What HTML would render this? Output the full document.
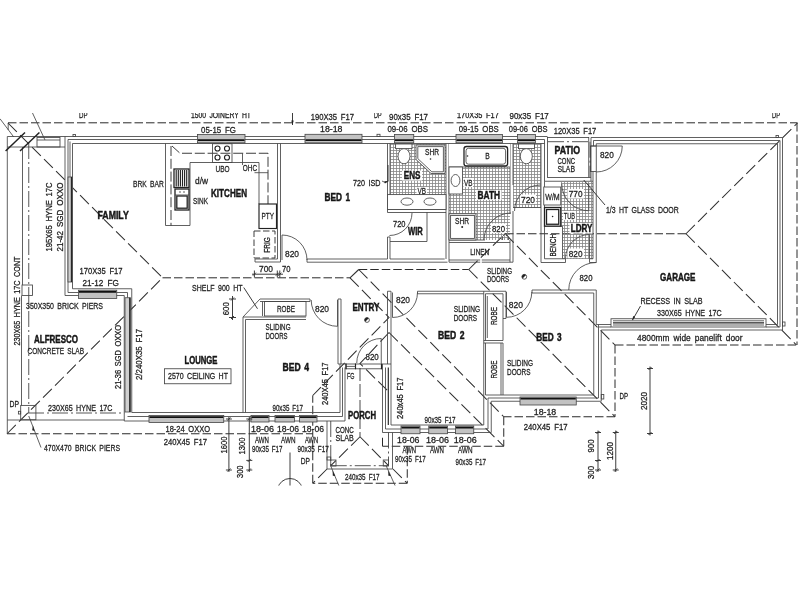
<!DOCTYPE html>
<html lang="en">
<head>
<meta charset="utf-8">
<title>Floor plan</title>
<style>
html,body{margin:0;padding:0;background:#fff;}
body{width:800px;height:600px;overflow:hidden;font-family:"Liberation Sans",sans-serif;}
svg{display:block;will-change:transform;}
.w{fill:none;stroke:#444;stroke-width:.85;}
.wf{fill:#fff;stroke:#444;stroke-width:.85;}
.k{fill:#fff;stroke:#222;stroke-width:1.3;}
.k3{fill:none;stroke:#222;stroke-width:1.15;}
.d3{fill:none;stroke:#333;stroke-width:.95;stroke-dasharray:6.5 2.5;}
.dm{fill:none;stroke:#333;stroke-width:.95;}
.k2{fill:none;stroke:#222;stroke-width:1.5;}
.d{fill:none;stroke:#2a2a2a;stroke-width:1;stroke-dasharray:8.5 3;}
.h{fill:none;stroke:#303030;stroke-width:1.05;stroke-dasharray:12.5 4.5;}
.ld{fill:none;stroke:#333;stroke-width:.9;stroke-dasharray:13 3;}
.d2{fill:none;stroke:#333;stroke-width:.95;stroke-dasharray:10 2.8;}
.dd{fill:none;stroke:#3a3a3a;stroke-width:.85;stroke-dasharray:16 3 2 3;}
.win{fill:#c2c2c2;stroke:#444;stroke-width:.8;}
.win2{fill:#cfcfcf;stroke:#444;stroke-width:.8;}
.glz{fill:none;stroke:#111;stroke-width:1.7;}
.tile{fill:url(#tp);stroke:none;}
.ko{fill:#fff;stroke:none;}
.dot{fill:#222;stroke:none;}
text{font-family:"Liberation Sans",sans-serif;fill:#222;stroke:#222;stroke-width:.28px;word-spacing:2px;}
.t{font-size:9.5px;}
.b{font-size:10.4px;font-weight:bold;fill:#161616;stroke:#161616;stroke-width:.45px;word-spacing:1.5px;}
</style>
</head>
<body>
<svg width="800" height="600" viewBox="0 0 800 600">
<defs>
<pattern id="tp" width="3" height="3" patternUnits="userSpaceOnUse" x="390" y="144">
<path d="M0 .5H3M.5 0V3" fill="none" stroke="#858585" stroke-width=".8"/>
</pattern>
<clipPath id="crop"><rect x="0" y="113" width="800" height="372.5"/></clipPath>
</defs>
<rect x="0" y="0" width="800" height="600" fill="#fff"/>
<g clip-path="url(#crop)">
<line class="d" x1="8" y1="122.8" x2="797.5" y2="122.8"/>
<line class="d" x1="797" y1="123" x2="797" y2="345"/>
<line class="d" x1="796" y1="345" x2="615" y2="345"/>
<line class="d" x1="615" y1="345" x2="615" y2="416.75"/>
<line class="d" x1="615" y1="416.75" x2="503.75" y2="416.75"/>
<line class="d" x1="503.75" y1="416.75" x2="503.75" y2="446.25"/>
<line class="d" x1="503.75" y1="446.25" x2="382.5" y2="446.25"/>
<line class="d" x1="382.5" y1="446.25" x2="382.5" y2="436"/>
<line class="d" x1="407.25" y1="446.25" x2="407.25" y2="483.25"/>
<line class="d" x1="407.25" y1="483.25" x2="312.75" y2="483.25"/>
<line class="d" x1="312.75" y1="483.25" x2="312.75" y2="395.5"/>
<line class="d" x1="7" y1="433.75" x2="312.75" y2="433.75"/>
<line class="w" x1="8.2" y1="123" x2="8.2" y2="130"/>
<line class="h" x1="8" y1="123" x2="162.5" y2="277.8"/>
<line class="h" x1="7" y1="433.75" x2="162.5" y2="277.8"/>
<polyline class="d" points="162.5,277.8 350,277.8"/>
<line class="h" x1="350" y1="277.8" x2="358.75" y2="269.5"/>
<line class="d" x1="358.75" y1="269.5" x2="468.75" y2="269.5"/>
<line class="h" x1="468.75" y1="269.5" x2="505" y2="233.75"/>
<line class="d" x1="505" y1="233.75" x2="686" y2="233.75"/>
<line class="h" x1="686" y1="233.75" x2="797.5" y2="123"/>
<line class="h" x1="686" y1="233.75" x2="796.5" y2="345"/>
<line class="h" x1="468.75" y1="269.5" x2="615" y2="416.75"/>
<line class="h" x1="505" y1="233.75" x2="615" y2="345"/>
<line class="h" x1="358.75" y1="269.5" x2="503.75" y2="416.75"/>
<polyline class="h" points="350,277.8 389,317.5 312.75,395.5"/>
<line class="h" x1="389" y1="332.5" x2="503.75" y2="446.25"/>
<polyline class="h" points="389,332.5 360,363.5 389,392"/>
<line class="h" x1="327" y1="469" x2="312.75" y2="483.25"/>
<line class="h" x1="393" y1="469" x2="407.25" y2="483.25"/>
<path class="tile" d="M390 144H446V194.4H390Z"/>
<path class="tile" d="M463 167H510V240H475V214H449V194H463Z"/>
<path class="tile" d="M513 144H541V207.5H513Z"/>
<path class="tile" d="M561 182H593V259H563V227H561Z"/>
<rect class="ko" x="402" y="170.5" width="20" height="10"/>
<rect class="ko" x="416.5" y="187" width="10.5" height="7.4"/>
<rect class="ko" x="476" y="190" width="25.5" height="10"/>
<rect class="ko" x="463.5" y="178" width="9.5" height="9"/>
<rect class="ko" x="491" y="223.5" width="15" height="9.5"/>
<rect class="ko" x="520" y="194.5" width="16" height="9.5"/>
<rect class="ko" x="567.5" y="189" width="16.5" height="9.5"/>
<rect class="ko" x="563" y="211" width="13" height="9"/>
<rect class="ko" x="569.5" y="223" width="23.5" height="10.5"/>
<rect class="ko" x="567.5" y="248.5" width="16.5" height="9.5"/>
<line class="w" x1="65" y1="136.5" x2="547.5" y2="136.5"/>
<line class="w" x1="68" y1="139.5" x2="544.5" y2="139.5"/>
<line class="w" x1="72.5" y1="143.5" x2="544.5" y2="143.5"/>
<line class="w" x1="65" y1="136.5" x2="65" y2="295.5"/>
<line class="w" x1="68" y1="139.5" x2="68" y2="292.5"/>
<line class="w" x1="70" y1="141.5" x2="70" y2="177"/>
<line class="w" x1="72.5" y1="143.5" x2="72.5" y2="288.75"/>
<rect class="win2" x="68" y="177" width="4.5" height="105"/>
<line class="k3" x1="71.4" y1="177" x2="71.4" y2="282"/>
<line class="w" x1="65" y1="295.5" x2="124.25" y2="295.5"/>
<line class="w" x1="68" y1="292.5" x2="127.5" y2="292.5"/>
<line class="w" x1="72.5" y1="288.75" x2="131.75" y2="288.75"/>
<line class="w" x1="131.75" y1="288.75" x2="131.75" y2="412.5"/>
<line class="w" x1="124.25" y1="295.5" x2="124.25" y2="421"/>
<line class="w" x1="127.5" y1="292.5" x2="127.5" y2="297.75"/>
<rect class="win2" x="125" y="297.75" width="5.5" height="114.25"/>
<line class="k3" x1="129.7" y1="297.75" x2="129.7" y2="412"/>
<line class="w" x1="124.25" y1="421" x2="345" y2="421"/>
<line class="w" x1="127.5" y1="416.5" x2="342.5" y2="416.5"/>
<line class="w" x1="131.75" y1="412.5" x2="340" y2="412.5"/>
<line class="w" x1="345" y1="421" x2="345" y2="367.5"/>
<line class="w" x1="342.5" y1="416.5" x2="342.5" y2="367.5"/>
<line class="w" x1="340" y1="412.5" x2="340" y2="364"/>
<polyline class="w" points="338,299 338,364 346,364"/>
<line class="w" x1="341" y1="299" x2="341" y2="364"/>
<line class="w" x1="338" y1="299" x2="341" y2="299"/>
<rect class="w" x="346" y="364" width="35.5" height="4.8"/>
<line class="k3" x1="355.5" y1="363.5" x2="355.5" y2="369.2"/>
<line class="w" x1="346" y1="366.4" x2="355.5" y2="366.4"/>
<line class="k3" x1="346" y1="363.5" x2="346" y2="369.2"/>
<line class="k3" x1="381.5" y1="363.5" x2="381.5" y2="369.2"/>
<line class="w" x1="387.5" y1="291.25" x2="387.5" y2="364"/>
<line class="w" x1="391" y1="291.25" x2="391" y2="425"/>
<line class="w" x1="387.5" y1="291.25" x2="391" y2="291.25"/>
<line class="w" x1="382.5" y1="364" x2="382.5" y2="432.5"/>
<line class="w" x1="385.5" y1="367.5" x2="385.5" y2="429"/>
<line class="k3" x1="388.3" y1="367.5" x2="388.3" y2="425"/>
<line class="w" x1="381.5" y1="364" x2="391" y2="364"/>
<line class="w" x1="382.5" y1="432.5" x2="491.25" y2="432.5"/>
<line class="w" x1="385.5" y1="429" x2="488" y2="429"/>
<line class="w" x1="391" y1="425" x2="483.75" y2="425"/>
<line class="w" x1="491.25" y1="432.5" x2="491.25" y2="401.25"/>
<line class="w" x1="488" y1="429" x2="488" y2="398"/>
<line class="w" x1="483.75" y1="425" x2="483.75" y2="291.25"/>
<line class="w" x1="491.25" y1="401.25" x2="601.25" y2="401.25"/>
<line class="w" x1="488" y1="398" x2="598.5" y2="398"/>
<line class="w" x1="485.5" y1="395" x2="593.75" y2="395"/>
<line class="w" x1="601.25" y1="401.25" x2="601.25" y2="330"/>
<line class="w" x1="598.5" y1="398" x2="598.5" y2="324.5"/>
<line class="w" x1="593.75" y1="395" x2="593.75" y2="293"/>
<line class="w" x1="596.25" y1="290" x2="596.25" y2="324.5"/>
<line class="w" x1="601.25" y1="330" x2="782.5" y2="330"/>
<line class="w" x1="596.25" y1="324.5" x2="611" y2="324.5"/>
<line class="w" x1="598.5" y1="327" x2="611" y2="327"/>
<rect class="w" x="611" y="318.75" width="155" height="8.25"/>
<line class="w" x1="613" y1="320.8" x2="764" y2="320.8"/>
<line class="k3" x1="613" y1="322.8" x2="764" y2="322.8"/>
<line class="w" x1="613" y1="325" x2="764" y2="325"/>
<line class="w" x1="766" y1="324.5" x2="777.5" y2="324.5"/>
<line class="w" x1="766" y1="327" x2="780" y2="327"/>
<line class="w" x1="782.5" y1="137.5" x2="782.5" y2="330"/>
<line class="w" x1="780" y1="140.5" x2="780" y2="327"/>
<line class="w" x1="777.5" y1="143.75" x2="777.5" y2="324.5"/>
<line class="w" x1="591" y1="137.5" x2="782.5" y2="137.5"/>
<line class="w" x1="593.5" y1="140.5" x2="780" y2="140.5"/>
<line class="w" x1="596.25" y1="143.75" x2="777.5" y2="143.75"/>
<line class="w" x1="591" y1="137.5" x2="591" y2="181.25"/>
<line class="w" x1="593.5" y1="140.5" x2="593.5" y2="146"/>
<line class="w" x1="596.25" y1="143.75" x2="596.25" y2="146"/>
<line class="w" x1="591" y1="146" x2="596.25" y2="146"/>
<rect class="w" x="590.5" y="146" width="5.75" height="25.5"/>
<line class="w" x1="596.25" y1="171.5" x2="596.25" y2="262.5"/>
<line class="w" x1="593" y1="171.5" x2="593" y2="181.25"/>
<rect class="w" x="547.5" y="137.5" width="41.25" height="40"/>
<line class="w" x1="544.5" y1="139.5" x2="544.5" y2="181.25"/>
<line class="w" x1="544.5" y1="181.25" x2="593" y2="181.25"/>
<line class="w" x1="588.75" y1="177.5" x2="591" y2="177.5"/>
<line class="dd" x1="548" y1="141.7" x2="590" y2="141.7"/>
<line class="dd" x1="590" y1="141.7" x2="590" y2="177"/>
<line class="w" x1="277.5" y1="143.5" x2="277.5" y2="259"/>
<line class="w" x1="280.5" y1="143.5" x2="280.5" y2="262"/>
<polyline class="w" points="277.5,259 255,259 255,262 280.5,262"/>
<polyline class="w" points="307,259 307,262.2 447.5,262.2"/>
<line class="w" x1="307" y1="259" x2="387.5" y2="259"/>
<line class="w" x1="390" y1="259" x2="444.7" y2="259"/>
<line class="w" x1="387.5" y1="143.5" x2="387.5" y2="212.5"/>
<line class="w" x1="387.5" y1="237" x2="387.5" y2="259"/>
<line class="w" x1="390" y1="143.5" x2="390" y2="195"/>
<line class="w" x1="390" y1="237" x2="390" y2="259"/>
<line class="w" x1="387.5" y1="237" x2="390" y2="237"/>
<line class="w" x1="387.5" y1="212.5" x2="390" y2="212.5"/>
<line class="w" x1="387.5" y1="209.5" x2="446" y2="209.5"/>
<line class="w" x1="390" y1="212.5" x2="446" y2="212.5"/>
<line class="w" x1="446" y1="143.5" x2="446" y2="259"/>
<line class="w" x1="449" y1="143.5" x2="449" y2="262.2"/>
<line class="w" x1="510" y1="143.5" x2="510" y2="214"/>
<line class="w" x1="513" y1="143.5" x2="513" y2="185"/>
<line class="w" x1="513" y1="211" x2="513" y2="262.2"/>
<line class="w" x1="510" y1="240" x2="510" y2="262.2"/>
<line class="w" x1="449" y1="240" x2="485" y2="240"/>
<line class="w" x1="449" y1="242.5" x2="510" y2="242.5"/>
<line class="w" x1="449" y1="260" x2="510" y2="260"/>
<line class="w" x1="449" y1="262.2" x2="513" y2="262.2"/>
<line class="w" x1="513" y1="207.5" x2="541" y2="207.5"/>
<polyline class="w" points="502.5,240 502.5,236.5 505.5,233.5 508.5,236.5 508.5,240"/>
<line class="w" x1="541" y1="143.5" x2="541" y2="262.5"/>
<line class="w" x1="544.5" y1="181.25" x2="544.5" y2="258.75"/>
<polyline class="w" points="544.5,258.75 565.5,258.75 565.5,262.5 541,262.5"/>
<polyline class="w" points="589.5,262.5 589.5,258.75 593,258.75"/>
<line class="w" x1="593" y1="181.25" x2="593" y2="258.75"/>
<line class="w" x1="589.5" y1="262.5" x2="596.25" y2="262.5"/>
<polyline class="w" points="417.5,291.25 506,291.25"/>
<polyline class="w" points="417.5,291.25 417.5,293.75 483.75,293.75"/>
<line class="w" x1="485.5" y1="293.75" x2="485.5" y2="340.5"/>
<line class="w" x1="485.5" y1="293.75" x2="503" y2="293.75"/>
<line class="w" x1="503" y1="293.75" x2="503" y2="340.5"/>
<line class="w" x1="506" y1="291.25" x2="506" y2="318.5"/>
<line class="w" x1="503" y1="318.5" x2="506" y2="318.5"/>
<line class="w" x1="483.75" y1="340.5" x2="503" y2="340.5"/>
<line class="w" x1="483.75" y1="343" x2="503" y2="343"/>
<line class="w" x1="485.5" y1="343" x2="485.5" y2="395"/>
<line class="w" x1="503" y1="343" x2="503" y2="395"/>
<line class="w" x1="501" y1="343" x2="501" y2="395"/>
<line class="w" x1="487.3" y1="296" x2="487.3" y2="338"/>
<polyline class="w" points="532,290 596.25,290"/>
<polyline class="w" points="532,290 532,293 593.75,293"/>
<polyline class="w" points="243,412.5 243,317 260,299 310,299"/>
<polyline class="w" points="245.5,412.5 245.5,319.5 306,319.5"/>
<line class="w" x1="243" y1="317" x2="306" y2="317"/>
<line class="w" x1="260" y1="301.5" x2="310" y2="301.5"/>
<line class="w" x1="310" y1="299" x2="310" y2="301.5"/>
<rect class="w" x="264.5" y="301.5" width="41.5" height="14.5"/>
<line class="w" x1="262.5" y1="301.5" x2="262.5" y2="316"/>
<rect class="win" x="197.5" y="134.5" width="47.5" height="8.3"/>
<line class="glz" x1="198" y1="140.2" x2="244.5" y2="140.2"/>
<rect class="win" x="305" y="134.3" width="57" height="8.5"/>
<line class="glz" x1="305.5" y1="140.2" x2="361.5" y2="140.2"/>
<rect class="win" x="394.5" y="134.5" width="19.25" height="8.3"/>
<line class="glz" x1="395" y1="140.2" x2="413.25" y2="140.2"/>
<rect class="win" x="456" y="134.5" width="46.5" height="8.3"/>
<line class="glz" x1="456.5" y1="140.2" x2="502" y2="140.2"/>
<rect class="win" x="517.5" y="134.5" width="18" height="8.3"/>
<line class="glz" x1="518" y1="140.2" x2="535" y2="140.2"/>
<rect class="win" x="78.5" y="290.25" width="38.25" height="8.25"/>
<line class="glz" x1="79" y1="291.85" x2="116.25" y2="291.85"/>
<rect class="win" x="149" y="415.5" width="74.75" height="7"/>
<line class="glz" x1="149.5" y1="417.1" x2="223.25" y2="417.1"/>
<rect class="win" x="251" y="415.5" width="18" height="6.5"/>
<line class="glz" x1="251.5" y1="417.1" x2="268.5" y2="417.1"/>
<rect class="win" x="275" y="415.5" width="19.5" height="6.5"/>
<line class="glz" x1="275.5" y1="417.1" x2="294" y2="417.1"/>
<rect class="win" x="299.5" y="415.5" width="17.5" height="6.5"/>
<line class="glz" x1="300" y1="417.1" x2="316.5" y2="417.1"/>
<rect class="win" x="401" y="426" width="19" height="7.75"/>
<line class="glz" x1="401.5" y1="427.6" x2="419.5" y2="427.6"/>
<rect class="win" x="428.75" y="426" width="18.75" height="7.75"/>
<line class="glz" x1="429.25" y1="427.6" x2="447" y2="427.6"/>
<rect class="win" x="455.5" y="426" width="18.25" height="7.75"/>
<line class="glz" x1="456" y1="427.6" x2="473.25" y2="427.6"/>
<rect class="win" x="520" y="397" width="56.25" height="8"/>
<line class="glz" x1="520.5" y1="398.6" x2="575.75" y2="398.6"/>
<path class="w" d="M282 235A25 25 0 0 1 307 260"/>
<line class="w" x1="282" y1="260" x2="282" y2="235"/>
<path class="w" d="M311.2 300A26.3 26.3 0 0 0 337.5 326.3"/>
<line class="w" x1="337.5" y1="300" x2="337.5" y2="326.3"/>
<path class="w" d="M417.5 292.5A25 25 0 0 1 392.5 317.5"/>
<line class="w" x1="392.5" y1="292.5" x2="392.5" y2="317.5"/>
<path class="w" d="M356.75 363A24.5 24.5 0 0 1 381.25 338.5"/>
<line class="w" x1="381.25" y1="363" x2="381.25" y2="338.5"/>
<path class="w" d="M412 213A22.5 22.5 0 0 1 389.5 235.5"/>
<path class="w" d="M484 240A27 27 0 0 1 511 213"/>
<path class="w" d="M514.5 211A26 26 0 0 1 540.5 185"/>
<path class="w" d="M561.75 183.75A27 27 0 0 0 588.75 210.75"/>
<line class="w" x1="588.75" y1="183.75" x2="588.75" y2="210.75"/>
<path class="w" d="M565.5 258.5A24 24 0 0 1 589.5 234.5"/>
<line class="w" x1="589.5" y1="258.5" x2="589.5" y2="234.5"/>
<path class="w" d="M596.25 262.5A27.5 27.5 0 0 0 568.75 290"/>
<path class="w" d="M622.25 146A26 26 0 0 1 596.25 172"/>
<line class="w" x1="596.25" y1="146" x2="622.25" y2="146"/>
<path class="w" d="M531.8 292A25.3 25.3 0 0 1 506.5 317.3"/>
<line class="w" x1="506.5" y1="292" x2="506.5" y2="317.3"/>
<polyline class="w" points="165.5,143.5 165.5,225.5 190,225.5 190,162.5 259,162.5 259,204"/>
<polyline class="d2" points="171,146 171,225.5"/>
<polyline class="d2" points="172,146 180,153.25 268,153.25 268,204"/>
<line class="w" x1="242.5" y1="153.25" x2="242.5" y2="165"/>
<line class="w" x1="254.5" y1="172.7" x2="268" y2="172.7"/>
<rect class="w" x="212.5" y="143.75" width="19.5" height="18.75"/>
<ellipse class="k3" cx="217.5" cy="148.5" rx="2.5" ry="2.5"/>
<ellipse class="k3" cx="227" cy="148.5" rx="2.5" ry="2.5"/>
<ellipse class="k3" cx="217.5" cy="157.5" rx="2.5" ry="2.5"/>
<ellipse class="k3" cx="227" cy="157.5" rx="2.5" ry="2.5"/>
<rect class="k" x="174" y="169" width="15" height="18.5"/>
<line class="k3" x1="176.2" y1="170" x2="176.2" y2="186.5"/>
<line class="k3" x1="178.3" y1="170" x2="178.3" y2="186.5"/>
<line class="k3" x1="180.4" y1="170" x2="180.4" y2="186.5"/>
<line class="k3" x1="182.5" y1="170" x2="182.5" y2="186.5"/>
<line class="k3" x1="184.6" y1="170" x2="184.6" y2="186.5"/>
<line class="k3" x1="186.7" y1="170" x2="186.7" y2="186.5"/>
<rect class="k" x="175" y="189" width="14" height="21"/>
<rect class="k" x="176.8" y="196" width="10.4" height="12.2"/>
<line class="w" x1="175" y1="195" x2="189" y2="195"/>
<circle cx="180" cy="192" r=".7" class="dot"/><circle cx="184" cy="192" r=".7" class="dot"/>
<rect class="k3" x="259" y="204" width="17.5" height="24.5"/>
<rect class="d3" x="254" y="231" width="21" height="27"/>
<rect class="wf" x="395.6" y="144" width="16.4" height="4.6"/>
<ellipse class="wf" cx="404" cy="156.2" rx="6" ry="7.6"/>
<polygon class="wf" points="416,145 445,145 445,173.5 431,173.5 416,159.5"/>
<polygon class="w" points="417.8,146.6 443.4,146.6 443.4,171.8 431.8,171.8 417.8,158.6"/>
<circle cx="430.5" cy="159" r=".8" class="dot"/>
<rect class="wf" x="387.5" y="194.6" width="58.5" height="14.9"/>
<ellipse class="w" cx="407" cy="201.6" rx="6" ry="3.6"/>
<ellipse class="w" cx="430" cy="201.6" rx="6" ry="3.6"/>
<polyline class="w" points="427,212 427,241.5 390,241.5"/>
<rect class="ko" x="449" y="144" width="61" height="23"/>
<line class="w" x1="449" y1="167" x2="510" y2="167"/>
<rect class="k" x="464" y="146.5" width="43.6" height="19.5" rx="2.5"/>
<rect class="w" x="466" y="148.3" width="39.6" height="15.9" rx="2.5"/>
<circle cx="467.5" cy="156" r=".8" class="dot"/>
<rect class="wf" x="449" y="167" width="13.5" height="27"/>
<ellipse class="w" cx="455.5" cy="180.5" rx="4.4" ry="6"/>
<rect class="wf" x="449" y="213.75" width="27" height="26.25"/>
<rect class="w" x="450.6" y="215.4" width="23.8" height="23"/>
<circle cx="462.2" cy="227" r="1" class="dot"/>
<rect class="wf" x="518.5" y="144" width="16" height="4.6"/>
<ellipse class="wf" cx="526.3" cy="156.2" rx="6" ry="7.6"/>
<rect class="wf" x="543.75" y="187" width="17" height="18"/>
<rect class="k" x="544.5" y="207.5" width="16.25" height="18.75"/>
<rect class="k" x="546.5" y="209.5" width="12.25" height="14.75"/>
<circle cx="552.6" cy="216.5" r=".8" class="dot"/>
<polyline class="w" points="544.5,226.25 562.5,226.25 562.5,258.75"/>
<circle cx="367" cy="320" r="2.4" class="w"/><path d="M365.3 321.7A2.4 2.4 0 0 1 368.7 318.3Z" class="dot"/>
<circle cx="524.3" cy="276.8" r="2.4" class="w"/><path d="M522.5999999999999 278.5A2.4 2.4 0 0 1 526.0 275.1Z" class="dot"/>
<line class="w" x1="7.3" y1="136.5" x2="65" y2="136.5"/>
<line class="w" x1="7.3" y1="147" x2="65" y2="147"/>
<line class="w" x1="7.3" y1="136.5" x2="7.3" y2="433.75"/>
<line class="w" x1="22.5" y1="147" x2="22.5" y2="285"/>
<line class="w" x1="21.5" y1="295.5" x2="21.5" y2="405.5"/>
<line class="dd" x1="28.75" y1="143" x2="28.75" y2="413"/>
<rect class="w" x="37" y="137.5" width="23" height="9.5"/>
<line class="w" x1="37" y1="140" x2="60" y2="140"/>
<line class="k2" x1="5.6" y1="151" x2="25" y2="132.5"/>
<line class="k2" x1="20" y1="151" x2="39.4" y2="132.5"/>
<line class="w" x1="0" y1="118.75" x2="13.75" y2="137"/>
<line class="w" x1="32.5" y1="113" x2="45" y2="140"/>
<rect class="w" x="22" y="285" width="10.5" height="10.5"/>
<rect class="w" x="20.7" y="405.4" width="15.2" height="14.35"/>
<rect class="w" x="18.4" y="411.3" width="2.3" height="2.7"/>
<line class="dd" x1="28" y1="413" x2="124.25" y2="413"/>
<line class="w" x1="7.3" y1="420" x2="124.25" y2="420"/>
<line class="w" x1="28.75" y1="416" x2="41" y2="447.5"/>
<path class="dot" d="M33 425.5l1.6 5.4l-2.4-.6z"/>
<rect class="w" x="73" y="134.5" width="2.5" height="2"/>
<rect class="w" x="377" y="134.3" width="3" height="2.2"/>
<rect class="w" x="776" y="135.5" width="2.5" height="2"/>
<rect class="w" x="601.25" y="394.5" width="2.55" height="4.5"/>
<rect class="w" x="782.5" y="322" width="2.5" height="4"/>
<line class="w" x1="327" y1="421" x2="327" y2="469"/>
<line class="dd" x1="330.75" y1="421" x2="330.75" y2="465.7"/>
<line class="w" x1="392.5" y1="432.5" x2="392.5" y2="469"/>
<line class="dd" x1="388.5" y1="432.5" x2="388.5" y2="465.7"/>
<line class="w" x1="327" y1="469" x2="392.5" y2="469"/>
<line class="dd" x1="330.75" y1="465.7" x2="388.5" y2="465.7"/>
<line class="ld" x1="360" y1="368" x2="360" y2="436.75"/>
<line class="h" x1="360" y1="436.75" x2="330.75" y2="465.7"/>
<line class="h" x1="360" y1="436.75" x2="388.5" y2="465.7"/>
<rect class="w" x="330.75" y="460" width="5.25" height="6"/>
<rect class="w" x="383.25" y="460" width="5.25" height="6"/>
<rect class="w" x="327" y="457" width="3.75" height="3"/>
<line class="w" x1="330.75" y1="466" x2="339" y2="486"/>
<line class="w" x1="386.25" y1="466" x2="395.25" y2="486"/>
<path class="dot" d="M332.6 470.5l2.6 5.4l-2.4-.2z"/><path class="dot" d="M388.2 470.5l2.6 5.4l-2.4-.2z"/>
<line class="dm" x1="292.5" y1="112.5" x2="292.5" y2="125"/>
<path class="dot" d="M291.3 120.5l1.2 4.5l1.2-4.5z"/>
<line class="dm" x1="252" y1="274.2" x2="283" y2="274.2"/>
<line class="dm" x1="254.4" y1="270.5" x2="254.4" y2="277.5"/>
<line class="dm" x1="252.9" y1="275.7" x2="255.9" y2="272.7"/>
<line class="dm" x1="277.3" y1="270.5" x2="277.3" y2="277.5"/>
<line class="dm" x1="275.8" y1="275.7" x2="278.8" y2="272.7"/>
<line class="dm" x1="279.8" y1="270.5" x2="279.8" y2="277.5"/>
<line class="dm" x1="278.3" y1="275.7" x2="281.3" y2="272.7"/>
<line class="dm" x1="232.5" y1="296" x2="232.5" y2="320"/>
<line class="dm" x1="229" y1="299" x2="236" y2="299"/>
<line class="dm" x1="231" y1="300.5" x2="234" y2="297.5"/>
<line class="dm" x1="229" y1="317.5" x2="236" y2="317.5"/>
<line class="dm" x1="231" y1="319" x2="234" y2="316"/>
<line class="dm" x1="243.75" y1="287.5" x2="257.5" y2="308.75"/>
<line class="dm" x1="228.9" y1="417" x2="228.9" y2="472"/>
<line class="dm" x1="249.3" y1="417" x2="249.3" y2="472"/>
<line class="dm" x1="225.9" y1="419" x2="231.9" y2="419"/>
<line class="dm" x1="227.4" y1="420.5" x2="230.4" y2="417.5"/>
<line class="dm" x1="225.9" y1="470" x2="231.9" y2="470"/>
<line class="dm" x1="227.4" y1="471.5" x2="230.4" y2="468.5"/>
<line class="dm" x1="246.3" y1="419" x2="252.3" y2="419"/>
<line class="dm" x1="247.8" y1="420.5" x2="250.8" y2="417.5"/>
<line class="dm" x1="246.3" y1="460.4" x2="252.3" y2="460.4"/>
<line class="dm" x1="247.8" y1="461.9" x2="250.8" y2="458.9"/>
<line class="dm" x1="246.3" y1="470" x2="252.3" y2="470"/>
<line class="dm" x1="247.8" y1="471.5" x2="250.8" y2="468.5"/>
<line class="dm" x1="290" y1="452.5" x2="290" y2="487"/>
<path class="dm" d="M277.59 488.91A12.6 12.6 0 0 1 302.41 488.91"/>
<line class="dm" x1="598" y1="430.5" x2="598" y2="472"/>
<line class="dm" x1="595" y1="432.5" x2="601" y2="432.5"/>
<line class="dm" x1="596.5" y1="434" x2="599.5" y2="431"/>
<line class="dm" x1="595" y1="460.5" x2="601" y2="460.5"/>
<line class="dm" x1="596.5" y1="462" x2="599.5" y2="459"/>
<line class="dm" x1="595" y1="470" x2="601" y2="470"/>
<line class="dm" x1="596.5" y1="471.5" x2="599.5" y2="468.5"/>
<line class="dm" x1="615.75" y1="430.5" x2="615.75" y2="472"/>
<line class="dm" x1="612.75" y1="432.5" x2="618.75" y2="432.5"/>
<line class="dm" x1="614.25" y1="434" x2="617.25" y2="431"/>
<line class="dm" x1="612.75" y1="470" x2="618.75" y2="470"/>
<line class="dm" x1="614.25" y1="471.5" x2="617.25" y2="468.5"/>
<line class="dm" x1="650" y1="366.5" x2="650" y2="435.5"/>
<line class="dm" x1="647" y1="368.5" x2="653" y2="368.5"/>
<line class="dm" x1="648.5" y1="370" x2="651.5" y2="367"/>
<line class="dm" x1="647" y1="433.5" x2="653" y2="433.5"/>
<line class="dm" x1="648.5" y1="435" x2="651.5" y2="432"/>
<line class="dm" x1="583.75" y1="180" x2="605" y2="205"/>
<line class="dm" x1="640.5" y1="306" x2="632.5" y2="320"/>
<path class="dot" d="M632.3 320.5l.8-4.6l2 1.2z"/>
<path class="w" d="M382 181q3 3 6.5 0"/>
<path class="dot" d="M388.5 181l-3.6 2.6l-.6-2.4z"/>
<line class="dm" x1="388" y1="165" x2="388" y2="181"/>
<path class="ko" d="M480.2 259h1.6v4.2h-1.6z"/>
<text class="t" x="79" y="118.35" textLength="8.5" lengthAdjust="spacingAndGlyphs">DP</text>
<text class="t" x="191" y="118.35" textLength="60" lengthAdjust="spacingAndGlyphs">1500 JOINERY HT</text>
<text class="t" x="201" y="133.35" textLength="35" lengthAdjust="spacingAndGlyphs">05-15 FG</text>
<text class="t" x="310.75" y="119.85" textLength="43.25" lengthAdjust="spacingAndGlyphs">190X35 F17</text>
<text class="t" x="320" y="132.1" textLength="22.5" lengthAdjust="spacingAndGlyphs">18-18</text>
<text class="t" x="374" y="118.35" textLength="7.5" lengthAdjust="spacingAndGlyphs">DP</text>
<text class="t" x="389" y="120.35" textLength="39" lengthAdjust="spacingAndGlyphs">90x35 F17</text>
<text class="t" x="387.5" y="132.1" textLength="40.5" lengthAdjust="spacingAndGlyphs">09-06 OBS</text>
<text class="t" x="457" y="118.35" textLength="41.75" lengthAdjust="spacingAndGlyphs">170X35 F17</text>
<text class="t" x="458.75" y="132.1" textLength="40" lengthAdjust="spacingAndGlyphs">09-15 OBS</text>
<text class="t" x="509.5" y="119.35" textLength="39.25" lengthAdjust="spacingAndGlyphs">90x35 F17</text>
<text class="t" x="508.75" y="132.1" textLength="38.75" lengthAdjust="spacingAndGlyphs">09-06 OBS</text>
<text class="t" x="553.75" y="133.85" textLength="42.5" lengthAdjust="spacingAndGlyphs">120X35 F17</text>
<text class="t" x="772" y="118.35" textLength="8" lengthAdjust="spacingAndGlyphs">DP</text>
<text class="t" transform="translate(51.95 251.5) rotate(-90)" textLength="69" lengthAdjust="spacingAndGlyphs">195X65 HYNE 17C</text>
<text class="t" transform="translate(62.55 251.5) rotate(-90)" textLength="69" lengthAdjust="spacingAndGlyphs">21-42 SGD OXXO</text>
<text class="t" transform="translate(19.55 345.5) rotate(-90)" textLength="89" lengthAdjust="spacingAndGlyphs">230X65 HYNE 17C CONT</text>
<text class="t" x="133" y="187.35" textLength="30.75" lengthAdjust="spacingAndGlyphs">BRK BAR</text>
<text class="b" x="97.5" y="218.6" textLength="31.25" lengthAdjust="spacingAndGlyphs">FAMILY</text>
<text class="t" x="195" y="183.85" textLength="13" lengthAdjust="spacingAndGlyphs">d/w</text>
<text class="t" x="193" y="204.35" textLength="15" lengthAdjust="spacingAndGlyphs">SINK</text>
<text class="b" x="211" y="196.6" textLength="36" lengthAdjust="spacingAndGlyphs">KITCHEN</text>
<text class="t" x="215.5" y="172.1" textLength="14" lengthAdjust="spacingAndGlyphs">UBO</text>
<text class="t" x="242.8" y="171.35" textLength="14.2" lengthAdjust="spacingAndGlyphs">OHC</text>
<text class="t" x="261.45" y="219.35" textLength="12.5" lengthAdjust="spacingAndGlyphs">PTY</text>
<text class="t" transform="translate(270.15 252.75) rotate(-90)" textLength="15.5" lengthAdjust="spacingAndGlyphs">FRIG</text>
<text class="b" x="324.5" y="200.6" textLength="25.5" lengthAdjust="spacingAndGlyphs">BED 1</text>
<text class="t" x="285" y="257.35" textLength="14" lengthAdjust="spacingAndGlyphs">820</text>
<text class="t" x="259" y="271.95" textLength="14" lengthAdjust="spacingAndGlyphs">700</text>
<text class="t" x="282" y="271.95" textLength="8.5" lengthAdjust="spacingAndGlyphs">70</text>
<text class="t" x="192" y="290.85" textLength="50.5" lengthAdjust="spacingAndGlyphs">SHELF 900 HT</text>
<text class="t" transform="translate(229.35 315.25) rotate(-90)" textLength="13" lengthAdjust="spacingAndGlyphs">600</text>
<text class="t" x="277" y="312.1" textLength="18" lengthAdjust="spacingAndGlyphs">ROBE</text>
<text class="t" x="315" y="312.1" textLength="14" lengthAdjust="spacingAndGlyphs">820</text>
<text class="t" x="265.5" y="330.1" textLength="25" lengthAdjust="spacingAndGlyphs">SLIDING</text>
<text class="t" x="265.5" y="339.35" textLength="22" lengthAdjust="spacingAndGlyphs">DOORS</text>
<text class="b" x="184.5" y="364.35" textLength="33" lengthAdjust="spacingAndGlyphs">LOUNGE</text>
<rect class="w" x="164.5" y="368.75" width="66.5" height="15"/>
<text class="t" x="168" y="379.35" textLength="60" lengthAdjust="spacingAndGlyphs">2570 CEILING HT</text>
<text class="b" x="282.5" y="370.6" textLength="26.5" lengthAdjust="spacingAndGlyphs">BED 4</text>
<text class="t" x="272.5" y="411.35" textLength="30.5" lengthAdjust="spacingAndGlyphs">90x35 F17</text>
<text class="t" x="165.5" y="432.1" textLength="44.5" lengthAdjust="spacingAndGlyphs">18-24 OXXO</text>
<text class="t" x="163.75" y="445.35" textLength="43.25" lengthAdjust="spacingAndGlyphs">240X45 F17</text>
<text class="t" x="251" y="432.1" textLength="23" lengthAdjust="spacingAndGlyphs">18-06</text>
<text class="t" x="277" y="432.1" textLength="22" lengthAdjust="spacingAndGlyphs">18-06</text>
<text class="t" x="302" y="432.1" textLength="22" lengthAdjust="spacingAndGlyphs">18-06</text>
<text class="t" x="255" y="443.15" textLength="14" lengthAdjust="spacingAndGlyphs">AWN</text>
<text class="t" x="281" y="443.15" textLength="14.5" lengthAdjust="spacingAndGlyphs">AWN</text>
<text class="t" x="305" y="443.15" textLength="13" lengthAdjust="spacingAndGlyphs">AWN</text>
<text class="t" x="252" y="452.35" textLength="30.5" lengthAdjust="spacingAndGlyphs">90x35 F17</text>
<text class="t" x="297.5" y="452.35" textLength="31.25" lengthAdjust="spacingAndGlyphs">90x35 F17</text>
<text class="t" transform="translate(226.65 453.5) rotate(-90)" textLength="17" lengthAdjust="spacingAndGlyphs">1600</text>
<text class="t" transform="translate(244.55 454.5) rotate(-90)" textLength="17" lengthAdjust="spacingAndGlyphs">1300</text>
<text class="t" transform="translate(242.55 478) rotate(-90)" textLength="12.5" lengthAdjust="spacingAndGlyphs">300</text>
<text class="t" x="300.75" y="464.1" textLength="9.25" lengthAdjust="spacingAndGlyphs">DP</text>
<text class="b" x="348" y="419.35" textLength="28" lengthAdjust="spacingAndGlyphs">PORCH</text>
<text class="t" x="335.5" y="432.6" textLength="18.25" lengthAdjust="spacingAndGlyphs">CONC</text>
<text class="t" x="335.5" y="440.85" textLength="18.25" lengthAdjust="spacingAndGlyphs">SLAB</text>
<text class="t" x="345" y="480.35" textLength="34.5" lengthAdjust="spacingAndGlyphs">240x35 F17</text>
<text class="t" transform="translate(328.35 405) rotate(-90)" textLength="42.5" lengthAdjust="spacingAndGlyphs">240X45 F17</text>
<text class="t" transform="translate(402.85 419) rotate(-90)" textLength="41.5" lengthAdjust="spacingAndGlyphs">240x45 F17</text>
<text class="t" x="347" y="379.35" textLength="7.5" lengthAdjust="spacingAndGlyphs">FG</text>
<text class="t" x="365.5" y="360.35" textLength="13.25" lengthAdjust="spacingAndGlyphs">820</text>
<text class="b" x="352.5" y="310.6" textLength="27" lengthAdjust="spacingAndGlyphs">ENTRY</text>
<text class="t" x="396" y="302.85" textLength="14" lengthAdjust="spacingAndGlyphs">820</text>
<text class="t" x="453.75" y="312.1" textLength="26.25" lengthAdjust="spacingAndGlyphs">SLIDING</text>
<text class="t" x="453.75" y="321.35" textLength="23.25" lengthAdjust="spacingAndGlyphs">DOORS</text>
<text class="b" x="438" y="338.6" textLength="26.5" lengthAdjust="spacingAndGlyphs">BED 2</text>
<text class="t" transform="translate(497.1 325) rotate(-90)" textLength="18" lengthAdjust="spacingAndGlyphs">ROBE</text>
<text class="t" transform="translate(497.1 378.5) rotate(-90)" textLength="18" lengthAdjust="spacingAndGlyphs">ROBE</text>
<text class="t" x="424.5" y="423.35" textLength="31" lengthAdjust="spacingAndGlyphs">90x35 F17</text>
<text class="t" x="397" y="443.35" textLength="22.5" lengthAdjust="spacingAndGlyphs">18-06</text>
<text class="t" x="426" y="443.35" textLength="23" lengthAdjust="spacingAndGlyphs">18-06</text>
<text class="t" x="453.75" y="443.35" textLength="23" lengthAdjust="spacingAndGlyphs">18-06</text>
<text class="t" x="402.5" y="453.35" textLength="13.5" lengthAdjust="spacingAndGlyphs">AWN</text>
<text class="t" x="430" y="453.35" textLength="14" lengthAdjust="spacingAndGlyphs">AWN</text>
<text class="t" x="458" y="453.35" textLength="14.5" lengthAdjust="spacingAndGlyphs">AWN</text>
<text class="t" x="395" y="462.35" textLength="30.75" lengthAdjust="spacingAndGlyphs">90x35 F17</text>
<text class="t" x="455.5" y="465.35" textLength="30.5" lengthAdjust="spacingAndGlyphs">90x35 F17</text>
<text class="t" x="353" y="185.85" textLength="27.5" lengthAdjust="spacingAndGlyphs">720 ISD</text>
<text class="t" x="425" y="155.1" textLength="14" lengthAdjust="spacingAndGlyphs">SHR</text>
<text class="b" x="403.75" y="179.1" textLength="16.75" lengthAdjust="spacingAndGlyphs">ENS</text>
<text class="t" x="417.5" y="194.35" textLength="8.5" lengthAdjust="spacingAndGlyphs">VB</text>
<text class="t" x="393" y="226.85" textLength="12.5" lengthAdjust="spacingAndGlyphs">720</text>
<text class="b" x="408" y="234.6" textLength="14.75" lengthAdjust="spacingAndGlyphs">WIR</text>
<text class="t" x="485.25" y="159.35" textLength="4.5" lengthAdjust="spacingAndGlyphs">B</text>
<text class="t" x="464" y="185.85" textLength="8.5" lengthAdjust="spacingAndGlyphs">VB</text>
<text class="b" x="477.5" y="198.6" textLength="22.5" lengthAdjust="spacingAndGlyphs">BATH</text>
<text class="t" x="455" y="223.65" textLength="14" lengthAdjust="spacingAndGlyphs">SHR</text>
<text class="t" x="492" y="231.75" textLength="13" lengthAdjust="spacingAndGlyphs">820</text>
<text class="t" x="470.25" y="254.85" textLength="19" lengthAdjust="spacingAndGlyphs">LINEN</text>
<text class="t" x="487" y="273.95" textLength="25" lengthAdjust="spacingAndGlyphs">SLIDING</text>
<text class="t" x="487" y="281.55" textLength="22" lengthAdjust="spacingAndGlyphs">DOORS</text>
<text class="t" x="521" y="202.6" textLength="14" lengthAdjust="spacingAndGlyphs">720</text>
<text class="b" x="554.5" y="154.35" textLength="25.5" lengthAdjust="spacingAndGlyphs">PATIO</text>
<text class="t" x="557.5" y="164.1" textLength="17.5" lengthAdjust="spacingAndGlyphs">CONC</text>
<text class="t" x="557.5" y="172.1" textLength="17.5" lengthAdjust="spacingAndGlyphs">SLAB</text>
<text class="t" x="600" y="157.85" textLength="13.75" lengthAdjust="spacingAndGlyphs">820</text>
<text class="t" x="545.25" y="199.6" textLength="14.5" lengthAdjust="spacingAndGlyphs">W/M</text>
<text class="t" x="563.75" y="218.85" textLength="11.25" lengthAdjust="spacingAndGlyphs">TUB</text>
<text class="b" x="570.75" y="231.85" textLength="21.75" lengthAdjust="spacingAndGlyphs">LDRY</text>
<text class="t" x="568.75" y="197.1" textLength="13.75" lengthAdjust="spacingAndGlyphs">770</text>
<text class="t" x="606" y="213.35" textLength="72.75" lengthAdjust="spacingAndGlyphs">1/3 HT GLASS DOOR</text>
<text class="t" transform="translate(556.25 256.45) rotate(-90)" textLength="22.5" lengthAdjust="spacingAndGlyphs">BENCH</text>
<text class="t" x="568.75" y="256.6" textLength="13.75" lengthAdjust="spacingAndGlyphs">820</text>
<text class="t" x="579.5" y="280.85" textLength="13" lengthAdjust="spacingAndGlyphs">820</text>
<text class="b" x="660" y="280.6" textLength="35.5" lengthAdjust="spacingAndGlyphs">GARAGE</text>
<text class="t" x="508.8" y="307.85" textLength="14.2" lengthAdjust="spacingAndGlyphs">820</text>
<text class="b" x="536.3" y="340.9" textLength="25.4" lengthAdjust="spacingAndGlyphs">BED 3</text>
<text class="t" x="640.5" y="303.65" textLength="62" lengthAdjust="spacingAndGlyphs">RECESS IN SLAB</text>
<text class="t" x="657" y="316.05" textLength="64.75" lengthAdjust="spacingAndGlyphs">330X65 HYNE 17C</text>
<text class="t" x="637" y="340.85" textLength="105.5" lengthAdjust="spacingAndGlyphs">4800mm wide panelift door</text>
<text class="t" x="507" y="366.35" textLength="26" lengthAdjust="spacingAndGlyphs">SLIDING</text>
<text class="t" x="507" y="375.35" textLength="23.5" lengthAdjust="spacingAndGlyphs">DOORS</text>
<text class="t" x="533.75" y="414.6" textLength="22.5" lengthAdjust="spacingAndGlyphs">18-18</text>
<text class="t" x="523.75" y="429.6" textLength="43.75" lengthAdjust="spacingAndGlyphs">240X45 F17</text>
<text class="t" x="619.5" y="398.85" textLength="8.5" lengthAdjust="spacingAndGlyphs">DP</text>
<text class="t" transform="translate(647.1 410) rotate(-90)" textLength="18" lengthAdjust="spacingAndGlyphs">2020</text>
<text class="t" transform="translate(594.1 452.5) rotate(-90)" textLength="13" lengthAdjust="spacingAndGlyphs">900</text>
<text class="t" transform="translate(594.1 479) rotate(-90)" textLength="13" lengthAdjust="spacingAndGlyphs">300</text>
<text class="t" transform="translate(612.6 460) rotate(-90)" textLength="18" lengthAdjust="spacingAndGlyphs">1200</text>
<text class="t" x="26" y="308.85" textLength="77" lengthAdjust="spacingAndGlyphs">350X350 BRICK PIERS</text>
<text class="b" x="34" y="342.6" textLength="44" lengthAdjust="spacingAndGlyphs">ALFRESCO</text>
<text class="t" x="27.5" y="353.85" textLength="56.5" lengthAdjust="spacingAndGlyphs">CONCRETE SLAB</text>
<text class="t" transform="translate(120.85 389) rotate(-90)" textLength="64" lengthAdjust="spacingAndGlyphs">21-36 SGD OXXO</text>
<text class="t" transform="translate(142.35 380) rotate(-90)" textLength="51" lengthAdjust="spacingAndGlyphs">2/240X35 F17</text>
<text class="t" x="9.5" y="407.35" textLength="9.5" lengthAdjust="spacingAndGlyphs">DP</text>
<text class="t" x="48" y="410.85" textLength="64.5" lengthAdjust="spacingAndGlyphs">230X65 HYNE 17C</text>
<text class="t" x="44" y="451.35" textLength="76" lengthAdjust="spacingAndGlyphs">470X470 BRICK PIERS</text>
<text class="t" x="79.5" y="274.35" textLength="43" lengthAdjust="spacingAndGlyphs">170X35 F17</text>
<text class="t" x="82.5" y="285.85" textLength="36.25" lengthAdjust="spacingAndGlyphs">21-12 FG</text>
</g>
</svg>
</body>
</html>
